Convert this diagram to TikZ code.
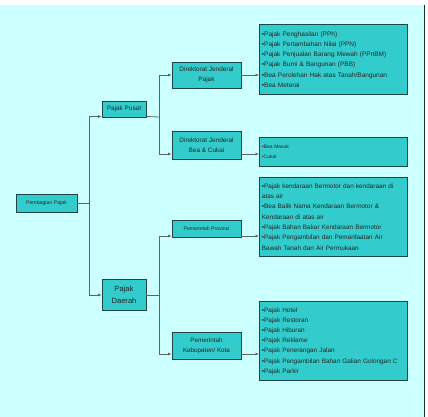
\documentclass[tikz,border=0pt]{standalone}
\usepackage{fontspec}
\setmainfont{Liberation Sans}
\usetikzlibrary{arrows.meta}
\definecolor{bgc}{HTML}{CCFFFF}
\definecolor{boxc}{HTML}{33CCCC}
\definecolor{edgec}{HTML}{1E4646}
\definecolor{linec}{HTML}{5A6464}
\tikzset{
  bx/.style={draw=edgec, fill=boxc, line width=0.9pt, inner sep=1pt, align=center, text=black!85},
  lst/.style={bx, anchor=north west, minimum width=148pt, text width=143pt, align=left, inner xsep=2.5pt},
  conn/.style={draw=linec, line width=0.8pt, -{Latex[length=3.5pt,width=3pt]}},
  plain/.style={draw=linec, line width=0.8pt}
}
\newcommand{\fs}[2]{\fontsize{#1}{#2}\selectfont}
\begin{document}
\begin{tikzpicture}[x=1pt,y=-1pt]
\useasboundingbox (0,0) rectangle (428,417);
\fill[white] (0,0) rectangle (428,417);
\fill[bgc] (0,5) rectangle (424,417);
\draw[edgec!70!black, line width=1.2pt] (424.4,5) -- (424.4,417);

% main boxes
\node[bx, minimum width=61pt, minimum height=18pt, font=\fs{5.2}{7}] (pb) at (46.5,203) {Pembagian Pajak};
\node[bx, minimum width=44pt, minimum height=16pt, font=\fs{6.4}{8}] (pp) at (124,109) {Pajak Pusat};
\node[bx, minimum width=44pt, minimum height=31pt, font=\fs{7.6}{12.5}] (pd) at (124,295) {Pajak\\Daerah};
\node[bx, minimum width=69pt, minimum height=26pt, font=\fs{6.4}{10}] (djp) at (206.5,75) {Direktorat Jenderal\\Pajak};
\node[bx, minimum width=69pt, minimum height=28pt, font=\fs{6.4}{10}] (djbc) at (206.5,145) {Direktorat Jenderal\\Bea \& Cukai};
\node[bx, minimum width=69pt, minimum height=17pt, font=\fs{5.1}{7}] (prov) at (206.5,228.5) {Pemerintah Provinsi};
\node[bx, minimum width=69pt, minimum height=27pt, font=\fs{6.3}{10}] (kab) at (206.5,345.5) {Pemerintah\\Kabupaten/ Kota};

% lists
\node[lst, minimum height=70pt, font=\fs{6.5}{10.3}] (l1) at (259,24) {%
•Pajak Penghasilan (PPh)\\
•Pajak Pertambahan Nilai (PPN)\\
•Pajak Penjualan Barang Mewah (PPnBM)\\
•Pajak Bumi \& Bangunan (PBB)\\
•Bea Perolehan Hak atas Tanah/Bangunan\\
•Bea Meterai};
\node[lst, minimum height=29pt, font=\fs{5.0}{10}] (l2) at (259,137) {%
•Bea Masuk\\
•Cukai};
\node[lst, minimum height=79pt, font=\fs{6.4}{10.3}] (l3) at (259,177) {%
•Pajak kendaraan Bermotor dan kendaraan di\\
atas air\\
•Bea Balik Nama Kendaraan Bermotor \&\\
Kendaraan di atas air\\
•Pajak Bahan Bakar Kendaraan Bermotor\\
•Pajak Pengambilan dan Pemanfaatan Air\\
Bawah Tanah dan Air Permukaan};
\node[lst, minimum height=79pt, font=\fs{6.4}{10.2}] (l4) at (259,301) {%
•Pajak Hotel\\
•Pajak Restoran\\
•Pajak Hiburan\\
•Pajak Reklame\\
•Pajak Penerangan Jalan\\
•Pajak Pengambilan Bahan Galian Golongan C\\
•Pajak Parkir};

% connectors level 1
\coordinate (j1) at (89,203);
\draw[plain] (pb.east) -- (j1);
\draw[conn] (j1) |- ([yshift=-7.5pt]pp.west);
\draw[conn] (j1) |- (pd.west);

% from Pajak Pusat
\coordinate (j2) at (159,117);
\draw[plain] ([yshift=-7.5pt]pp.east) -- (j2);
\draw[conn] (j2) |- (djp.west);
\draw[conn] (j2) |- ([yshift=-9pt]djbc.west);

% from Pajak Daerah
\coordinate (j3) at (159,295);
\draw[plain] (pd.east) -- (j3);
\draw[conn] (j3) |- ([yshift=-7.5pt]prov.west);
\draw[conn] (j3) |- ([yshift=-8.5pt]kab.west);

% to lists
\draw[conn] (djp.east) -- (djp.east -| l1.west);
\draw[conn] ([yshift=-9pt]djbc.east) -- ([yshift=-9pt]djbc.east -| l2.west);
\draw[conn] ([yshift=-7.5pt]prov.east) -- ([yshift=-7.5pt]prov.east -| l3.west);
\draw[conn] ([yshift=-8.5pt]kab.east) -- ([yshift=-8.5pt]kab.east -| l4.west);
\end{tikzpicture}
\end{document}
